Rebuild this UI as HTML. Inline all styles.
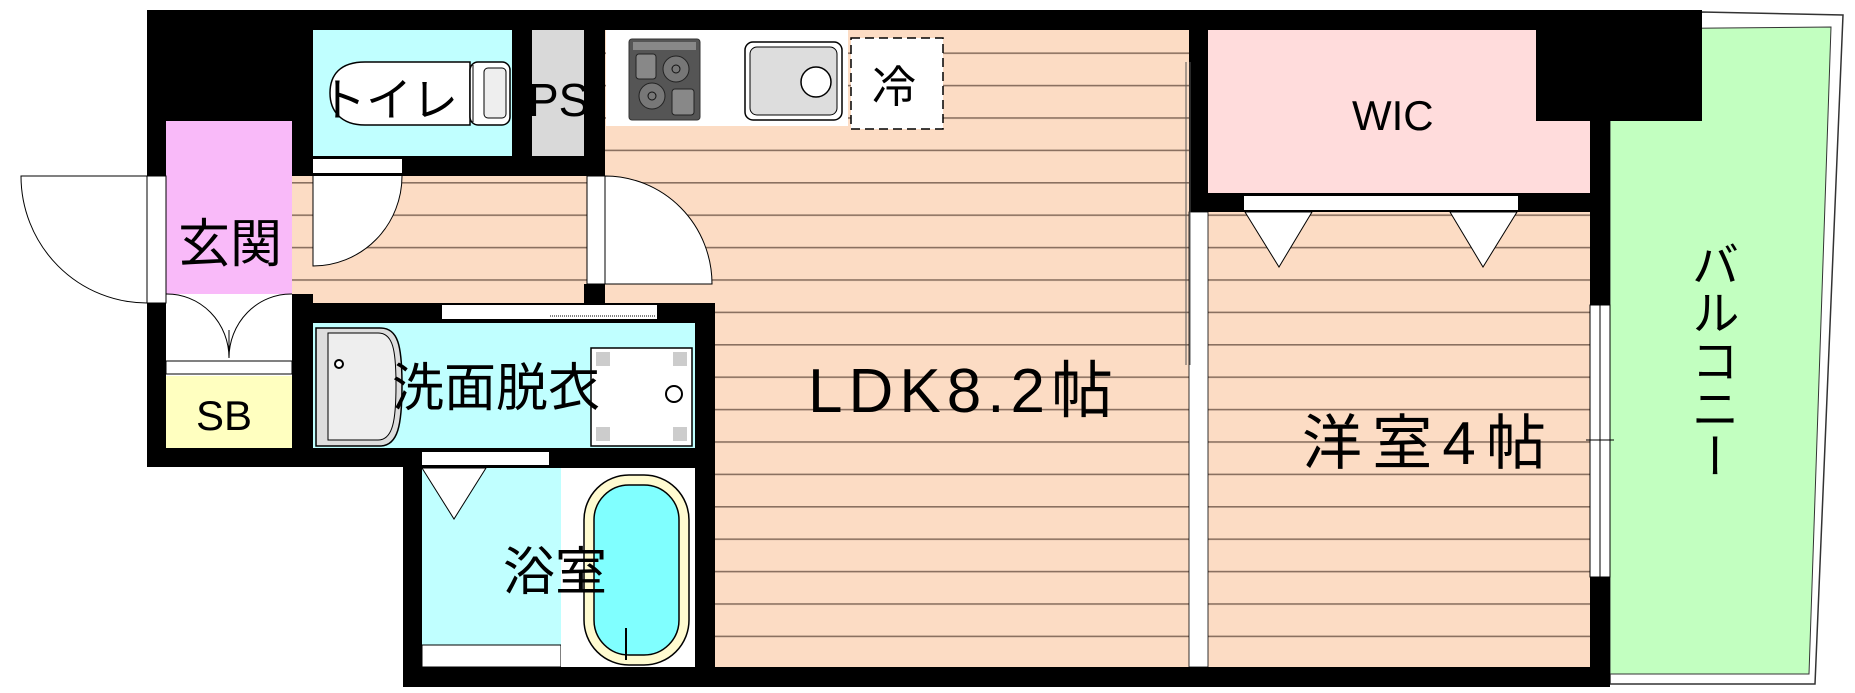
<!DOCTYPE html>
<html><head><meta charset="utf-8"><style>
html,body{margin:0;padding:0;background:#fff;}
svg{display:block}
text{font-family:"Liberation Sans","Noto Sans CJK JP",sans-serif;fill:#000}
</style></head><body>
<svg width="1855" height="693" viewBox="0 0 1855 693" xmlns="http://www.w3.org/2000/svg">
<defs>
<pattern id="fl" x="0" y="20" width="20" height="32.4" patternUnits="userSpaceOnUse">
<rect width="20" height="32.4" fill="#fcdcc4"/>
<rect y="0" width="20" height="1.6" fill="#8a7060"/>
</pattern>
</defs>
<!-- balcony -->
<polygon points="1702,12 1843,15 1815,684 1610,684 1610,121" fill="#fff" stroke="#333" stroke-width="1.5"/>
<polygon points="1610,29 1831,27 1809,674 1610,674" fill="#c2ffc0" stroke="#333" stroke-width="1"/>
<!-- main black walls -->
<rect x="147" y="10" width="1555" height="20" fill="#000"/>
<rect x="147" y="10" width="153" height="111" fill="#000"/>
<rect x="147" y="10" width="19" height="457" fill="#000"/>
<rect x="147" y="448" width="256" height="19" fill="#000"/>
<rect x="403" y="448" width="19" height="239" fill="#000"/>
<rect x="403" y="667" width="1207" height="20" fill="#000"/>
<rect x="1536" y="10" width="166" height="111" fill="#000"/>
<rect x="1590" y="121" width="20" height="566" fill="#000"/>
<!-- floors -->
<rect x="605" y="30" width="584" height="637" fill="url(#fl)"/>
<rect x="292" y="176" width="313" height="127" fill="url(#fl)"/>
<rect x="1208" y="212" width="382" height="455" fill="url(#fl)"/>
<!-- toilet & PS -->
<rect x="292" y="30" width="313" height="146" fill="#000"/>
<rect x="313" y="30" width="199" height="126" fill="#c0ffff"/>
<rect x="532" y="30" width="52" height="126" fill="#d9d9d9"/>
<rect x="313" y="159" width="89" height="14" fill="#fff"/>
<!-- toilet fixture -->
<path d="M470,62 L365,62 C340,62 330,75 330,93 C330,110 340,125 365,125 L470,125 Z" fill="#fff" stroke="#000" stroke-width="1.5"/>
<rect x="470" y="62" width="40" height="63" rx="8" fill="#fff" stroke="#000" stroke-width="1.5"/>
<rect x="484" y="68" width="22" height="50" rx="4" fill="#eee" stroke="#000"/>
<line x1="473" y1="65" x2="473" y2="122" stroke="#000"/>
<!-- genkan -->
<rect x="166" y="121" width="126" height="173" fill="#f9baf9"/>
<rect x="292" y="121" width="21" height="55" fill="#000"/>
<rect x="166" y="294" width="126" height="64" fill="#fff"/>
<rect x="166" y="361" width="126" height="13" fill="#fff" stroke="#000" stroke-width="1"/>
<rect x="166" y="376" width="126" height="72" fill="#ffffc0"/>
<rect x="292" y="294" width="21" height="154" fill="#000"/>
<path d="M166,294 A62,64 0 0 1 229,358" fill="none" stroke="#000" stroke-width="1"/>
<path d="M292,294 A62,64 0 0 0 229,358" fill="none" stroke="#000" stroke-width="1"/>
<line x1="229" y1="330" x2="229" y2="358" stroke="#000"/>
<!-- entry door -->
<rect x="147" y="176" width="19" height="127" fill="#fff" stroke="#000" stroke-width="1"/>
<path d="M147,176 L21,176 A126,127 0 0 0 147,303" fill="none" stroke="#000" stroke-width="1"/>
<!-- toilet door -->
<rect x="313" y="176" width="2" height="90" fill="#fff"/>
<path d="M313,176 L313,266 A89,90 0 0 0 402,176" fill="#fff" stroke="#000" stroke-width="1"/>
<!-- LDK door -->
<rect x="587" y="176" width="18" height="108" fill="#fff" stroke="#000" stroke-width="1"/>
<rect x="584" y="284" width="21" height="19" fill="#000"/>
<path d="M605,176 L605,284 L712,284 A107,108 0 0 0 605,176 Z" fill="#fff" stroke="#000" stroke-width="1"/>
<!-- kitchen -->
<rect x="606" y="30" width="242" height="96" fill="#fff"/>
<rect x="629" y="39" width="71" height="81" rx="3" fill="#555" stroke="#333"/>
<rect x="633" y="42" width="63" height="8" fill="#888"/>
<circle cx="676" cy="69" r="13" fill="#777" stroke="#222"/><circle cx="676" cy="69" r="4" fill="none" stroke="#111"/>
<circle cx="652" cy="96" r="13" fill="#777" stroke="#222"/><circle cx="652" cy="96" r="4" fill="none" stroke="#111"/>
<rect x="636" y="54" width="20" height="25" rx="3" fill="#888" stroke="#222"/>
<rect x="672" y="89" width="22" height="26" rx="3" fill="#888" stroke="#222"/>
<rect x="745" y="42" width="97" height="78" rx="8" fill="#fff" stroke="#000" stroke-width="1.5"/>
<rect x="750" y="47" width="87" height="68" rx="7" fill="#ddd" stroke="#000"/>
<circle cx="816" cy="82" r="15" fill="#fff" stroke="#000" stroke-width="1.5"/>
<rect x="851" y="38" width="92" height="91" fill="#fff" stroke="#000" stroke-width="1.5" stroke-dasharray="9,5"/>
<!-- washroom -->
<rect x="292" y="303" width="423" height="20" fill="#000"/>
<rect x="442" y="305" width="215" height="14" fill="#fff"/>
<line x1="550" y1="316" x2="655" y2="316" stroke="#000" stroke-dasharray="1,1"/>
<rect x="313" y="323" width="382" height="125" fill="#c0ffff"/>
<rect x="695" y="303" width="20" height="364" fill="#000"/>
<path d="M316,328 L380,328 C398,328 402,345 402,385 C402,425 398,446 380,446 L316,446 Z" fill="#ddd" stroke="#000" stroke-width="1.5"/>
<path d="M328,333 L378,333 C393,333 396,350 396,385 C396,420 393,440 378,440 L328,440 Z" fill="#eee" stroke="#000"/>
<circle cx="339" cy="364" r="4" fill="#fff" stroke="#000" stroke-width="2"/>
<rect x="591" y="348" width="101" height="98" fill="#fff" stroke="#000" stroke-width="1.5"/>
<rect x="596" y="352" width="14" height="14" fill="#ccc"/><rect x="673" y="352" width="14" height="14" fill="#ccc"/>
<rect x="596" y="427" width="14" height="14" fill="#ccc"/><rect x="673" y="427" width="14" height="14" fill="#ccc"/>
<circle cx="674" cy="394" r="8" fill="#fff" stroke="#000" stroke-width="2"/>
<!-- bath -->
<rect x="422" y="448" width="273" height="20" fill="#000"/>
<rect x="422" y="452" width="127" height="13" fill="#fff"/>
<rect x="422" y="468" width="139" height="199" fill="#c0ffff"/>
<rect x="422" y="645" width="139" height="22" fill="#fff" stroke="#000" stroke-width="1"/>
<rect x="561" y="468" width="134" height="199" fill="#fff"/>
<rect x="584" y="475" width="105" height="190" rx="45" fill="#fffbd0" stroke="#000" stroke-width="1.5"/>
<rect x="594" y="485" width="85" height="170" rx="35" fill="#80ffff" stroke="#000" stroke-width="1.5"/>
<line x1="626" y1="628" x2="626" y2="660" stroke="#000" stroke-width="2"/>
<polygon points="422,468 486,468 454,519" fill="#fff" stroke="#000" stroke-width="1"/>
<!-- LDK / room divider -->
<rect x="1189" y="30" width="19" height="182" fill="#000"/>
<rect x="1189" y="212" width="19" height="455" fill="#fff" stroke="#000" stroke-width="0.8"/>
<line x1="1186" y1="62" x2="1186" y2="365" stroke="#555" stroke-width="1"/>
<line x1="1190" y1="62" x2="1190" y2="365" stroke="#555" stroke-width="1"/>
<!-- WIC -->
<rect x="1208" y="30" width="328" height="163" fill="#ffdcdc"/>
<rect x="1536" y="121" width="54" height="72" fill="#ffdcdc"/>
<rect x="1208" y="193" width="382" height="19" fill="#000"/>
<rect x="1244" y="196" width="274" height="14" fill="#fff"/>
<polygon points="1245,212 1312,212 1279,267" fill="#fff" stroke="#000" stroke-width="1"/>
<polygon points="1450,212 1517,212 1483,267" fill="#fff" stroke="#000" stroke-width="1"/>
<!-- window -->
<rect x="1590" y="305" width="20" height="272" fill="#fff" stroke="#000" stroke-width="1"/>
<line x1="1600" y1="305" x2="1600" y2="577" stroke="#000"/>
<line x1="1586" y1="440" x2="1614" y2="440" stroke="#000"/>
<!-- labels -->
<text x="320" y="116" font-size="46">トイレ</text>
<text x="528" y="116" font-size="46">PS</text>
<text x="872" y="102" font-size="44">冷</text>
<text x="178" y="262" font-size="52">玄関</text>
<text x="196" y="430" font-size="42">SB</text>
<text x="392" y="406" font-size="52">洗面脱衣</text>
<text x="503" y="590" font-size="52">浴室</text>
<text x="808" y="412" font-size="62" textLength="305">LDK8.2帖</text>
<text x="1302" y="464" font-size="60" textLength="244">洋室4帖</text>
<text x="1352" y="130" font-size="42">WIC</text>
<text x="1710" y="240" font-size="48" style="writing-mode:vertical-rl" text-anchor="start">バルコニー</text>
</svg>
</body></html>
